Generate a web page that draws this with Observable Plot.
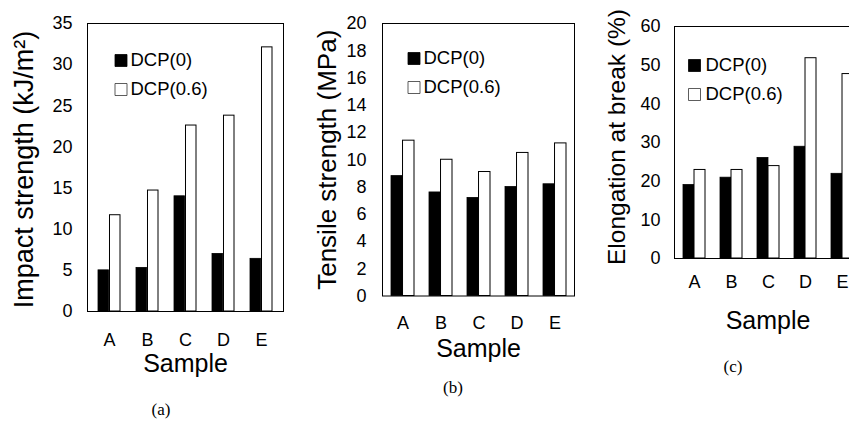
<!DOCTYPE html>
<html>
<head>
<meta charset="utf-8">
<script src="https://cdn.jsdelivr.net/npm/d3@7"></script>
<script src="https://cdn.jsdelivr.net/npm/@observablehq/plot@0.6"></script>
<style>
  html, body { margin: 0; padding: 0; background: #fff; }
  #wrap { position: relative; width: 849px; height: 423px; overflow: hidden; background: #fff; }
  .panel { position: absolute; top: 0; width: 290px; height: 423px; }
  .panel svg { max-width: none !important; width: 290px !important; height: 423px !important; }
  .cap { position: absolute; font-family: "Liberation Serif", "Times New Roman", serif; font-size: 17px; color: #000; transform: translate(-50%, -50%); white-space: nowrap; }
</style>
</head>
<body>
<div id="wrap"></div>
<script>
// ---- data ----
const samples = ["A", "B", "C", "D", "E"];
const seriesNames = ["DCP(0)", "DCP(0.6)"];
const xTitle = "Sample";

const impactTitle = "Impact strength (kJ/m²)";
const impactDCP0 = [5.0, 5.3, 14.0, 7.0, 6.4];
const impactDCP06 = [11.7, 14.7, 22.6, 23.8, 32.1];
const impactTicks = [0, 5, 10, 15, 20, 25, 30, 35];

const tensileTitle = "Tensile strength (MPa)";
const tensileDCP0 = [8.8, 7.6, 7.2, 8.0, 8.2];
const tensileDCP06 = [11.4, 10.0, 9.1, 10.5, 11.2];
const tensileTicks = [0, 2, 4, 6, 8, 10, 12, 14, 16, 18, 20];

const elongTitle = "Elongation at break (%)";
const elongDCP0 = [19.0, 20.9, 26.0, 28.9, 21.9];
const elongDCP06 = [22.9, 22.9, 23.9, 51.8, 47.7];
const elongTicks = [0, 10, 20, 30, 40, 50, 60];

const captions = ["(a)", "(b)", "(c)"];

// ---- layout ----
const FONT = "'Liberation Sans', Arial, Helvetica, sans-serif";
const panels = [
  {title: impactTitle, titleSize: 27, v0: impactDCP0, v1: impactDCP06, ticks: impactTicks,
   left: 0, width: 290, mL: 87, mR: 7, mT: 23, mB: 112, pi: 0.41, po: 0.22,
   padX: 22, padY: 15, titleDx: -74, titleDy: 2, sampleDy: 43,
   legSq: 33.5, legTx: 43, legRows: [37, 66], cap: [161, 410]},
  {title: tensileTitle, titleSize: 26, v0: tensileDCP0, v1: tensileDCP06, ticks: tensileTicks,
   left: 290, width: 290, mL: 92, mR: 6, mT: 23, mB: 127.5, pi: 0.4, po: 0.2,
   padX: 20, padY: 16, titleDx: -65, titleDy: 0, sampleDy: 43.5,
   legSq: 31.5, legTx: 41, legRows: [35, 64], cap: [453, 388]},
  {title: elongTitle, titleSize: 24.5, v0: elongDCP0, v1: elongDCP06, ticks: elongTicks,
   left: 580, width: 290, mL: 94, mR: 9, mT: 26, mB: 165, pi: 0.41, po: 0.21,
   padX: 17, padY: 14, titleDx: -67, titleDy: -5.5, sampleDy: 53,
   legSq: 20, legTx: 31, legRows: [39, 68], cap: [733, 367]}
];

const wrap = document.getElementById("wrap");
const H = 423;
const fills = ["black", "white"];

panels.forEach((p, k) => {
  const rows = samples.map((s, i) => ({sample: s, v0: p.v0[i], v1: p.v1[i]}));
  const bw = d3.scaleBand().domain(samples)
    .range([p.mL, p.width - p.mR]).paddingInner(p.pi).paddingOuter(p.po).bandwidth();
  const legendMarks = seriesNames.flatMap((name, j) => [
    Plot.dot([name], {frameAnchor: "top-left", dx: p.legSq, dy: p.legRows[j],
      symbol: "square", r: 12 / Math.sqrt(Math.PI), fill: fills[j], stroke: j ? "#333" : "black", strokeWidth: 0.8}),
    Plot.text([name], {frameAnchor: "top-left", dx: p.legTx, dy: p.legRows[j], text: d => d,
      textAnchor: "start", lineAnchor: "middle", fontSize: 18.5, fill: "black"})
  ]);
  const chart = Plot.plot({
    width: p.width, height: H,
    marginLeft: p.mL, marginRight: p.mR, marginTop: p.mT, marginBottom: p.mB,
    style: {fontFamily: FONT, fontSize: "18px", color: "black", background: "transparent", overflow: "visible"},
    x: {type: "band", domain: samples, paddingInner: p.pi, paddingOuter: p.po},
    y: {domain: [0, p.ticks[p.ticks.length - 1]]},
    marks: [
      Plot.barY(rows, {x: "sample", y: "v0", fill: "black", stroke: "black", strokeWidth: 0.8, insetLeft: 0, insetRight: bw / 2}),
      Plot.barY(rows, {x: "sample", y: "v1", fill: "white", stroke: "black", strokeWidth: 1, insetLeft: bw / 2, insetRight: 0}),
      Plot.frame({stroke: "black", strokeWidth: 1}),
      Plot.axisX({tickSize: 0, tickPadding: p.padX, fontSize: 18, label: null}),
      Plot.axisY({ticks: p.ticks, tickSize: 0, tickPadding: p.padY, fontSize: 18, label: null}),
      Plot.text([p.title], {frameAnchor: "left", rotate: -90, dx: p.titleDx, dy: p.titleDy, text: d => d,
        textAnchor: "middle", lineAnchor: "top", fontSize: p.titleSize, fill: "black"}),
      Plot.text([xTitle], {frameAnchor: "bottom", dy: p.sampleDy, text: d => d,
        textAnchor: "middle", lineAnchor: "top", fontSize: 25, fill: "black"}),
      ...legendMarks
    ]
  });
  const div = document.createElement("div");
  div.className = "panel";
  div.style.left = p.left + "px";
  div.appendChild(chart);
  wrap.appendChild(div);
  const cap = document.createElement("div");
  cap.className = "cap";
  cap.style.left = p.cap[0] + "px";
  cap.style.top = p.cap[1] + "px";
  cap.textContent = captions[k];
  wrap.appendChild(cap);
});
</script>
</body>
</html>
